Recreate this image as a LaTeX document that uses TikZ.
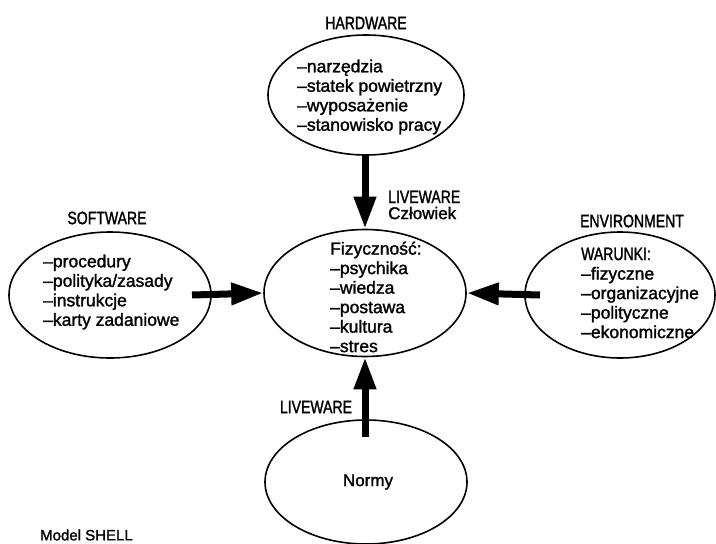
\documentclass[tikz,border=0pt]{standalone}
\usepackage{fontspec}
\setmainfont{Liberation Sans}[FakeBold=1.5]
\newfontfamily\capsfont{Liberation Sans}[FakeStretch=0.78,FakeBold=1.5]
\usetikzlibrary{shapes.geometric,arrows.meta}
\begin{document}
\begin{tikzpicture}
[x=1pt,y=-1pt,
  blobdecorate/.style={shape=ellipse,draw,line width=1.6pt,inner sep=0pt},
  listdecorate/.style={align=left,inner sep=0pt,anchor=west,font=\fontsize{17.5}{19.5}\selectfont},
  titledecorate/.style={inner sep=0pt,font=\capsfont\fontsize{18}{16}\selectfont},
  arrowdecorate/.style={line width=7pt,-{Triangle[length=32pt,width=21pt]}}]
\useasboundingbox (0,0) rectangle (716,544);
%% ellipses
\foreach \nodename/\x/\y/\w/\h in {hardware/366/95/196/120, human/365/293/202/127,
  software/110/295/202/126, environment/620/295/190/126, norms/366/482/202/124} {
  \node (\nodename) at (\x,\y) [blobdecorate,minimum width=\w pt,minimum height=\h pt] {};
}
%% arrow tails
\coordinate (swtail) at (192,295);
\coordinate (envtail) at (540,295);
\coordinate (hwtail) at (365,155);
\coordinate (normtail) at (365,437);
%% arrows
\draw[arrowdecorate] (hwtail) -- (human.north);
\draw[arrowdecorate] (swtail) -- (human.west);
\draw[arrowdecorate] (envtail) -- (human.east);
\draw[arrowdecorate] (normtail) -- (human.south);
%% texts
\node[titledecorate] (hwtitle) at (366,23) {HARDWARE};
\node[listdecorate] (hwlist) at (297,97) {--narzędzia\\--statek powietrzny\\--wyposażenie\\--stanowisko pracy};
\node[titledecorate] (swtitle) at (107,218) {SOFTWARE};
\node[listdecorate] (swlist) at (43,292) {--procedury\\--polityka/zasady\\--instrukcje\\--karty zadaniowe};
\node[titledecorate] (envtitle) at (632,221) {ENVIRONMENT};
\node[listdecorate] (envlist) at (581,293) {{\capsfont\fontsize{18}{19.5}\selectfont WARUNKI:}\\--fizyczne\\--organizacyjne\\--polityczne\\--ekonomiczne};
\node[listdecorate] (humanlist) at (330,297) {Fizyczność:\\--psychika\\--wiedza\\--postawa\\--kultura\\--stres};
\node[listdecorate,font=\fontsize{17}{16}\selectfont] (humantitle) at (388,205) {{\capsfont\fontsize{18}{16}\selectfont LIVEWARE}\\Człowiek};
\node[titledecorate] (normtitle) at (316,407) {LIVEWARE};
\node[titledecorate,font=\fontsize{17}{19}\selectfont] (normtext) at (368,482) {Normy};
\node[titledecorate,anchor=west,font=\fontsize{15}{17}\selectfont] (modeltitle) at (40,535) {Model SHELL};
\end{tikzpicture}
\end{document}
